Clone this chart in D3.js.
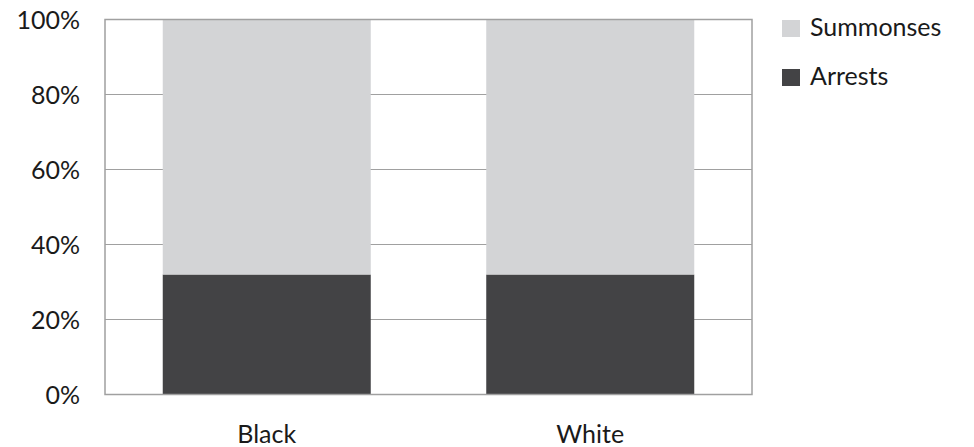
<!DOCTYPE html>
<html>
<head>
<meta charset="utf-8">
<script src="https://cdn.jsdelivr.net/npm/d3@7"></script>
<style>
  body { margin: 0; background: #fff; }
  text { font-family: Lato, "Open Sans", sans-serif; fill: #1a1a1a; }
</style>
</head>
<body>
<div id="chart"></div>
<script>
var races = ["Black", "White"];
var arrests = [32, 32];
var summonses = [68, 68];
var seriesNames = ["Summonses", "Arrests"];
var seriesColors = ["#d3d4d6", "#434345"];
var yTicks = [0, 20, 40, 60, 80, 100];

var width = 974, height = 447;
var margin = { top: 19.5, right: 222, bottom: 52.5, left: 105 };

var svg = d3.select("#chart").append("svg")
    .attr("width", width)
    .attr("height", height);

var x = d3.scaleBand()
    .domain(races)
    .range([margin.left, width - margin.right])
    .paddingInner(0.357)
    .paddingOuter(0.1785);

var y = d3.scaleLinear()
    .domain([0, 100])
    .range([height - margin.bottom, margin.top]);

// gridlines
svg.append("g").selectAll("line")
    .data(yTicks)
    .enter().append("line")
    .attr("x1", margin.left)
    .attr("x2", width - margin.right)
    .attr("y1", d => y(d))
    .attr("y2", d => y(d))
    .attr("stroke", "#a0a0a0")
    .attr("stroke-width", 1.2);

// stacked data
var rows = races.map(function(r, i) {
    return { race: r, Arrests: arrests[i], Summonses: summonses[i] };
});
var stack = d3.stack().keys(["Arrests", "Summonses"]);
var layers = stack(rows);
var color = d3.scaleOrdinal().domain(seriesNames).range(seriesColors);

svg.append("g").selectAll("g")
    .data(layers)
    .enter().append("g")
    .attr("fill", d => color(d.key))
    .selectAll("rect")
    .data(d => d)
    .enter().append("rect")
    .attr("x", d => x(d.data.race))
    .attr("width", x.bandwidth())
    .attr("y", d => y(d[1]))
    .attr("height", d => y(d[0]) - y(d[1]));

// plot border
svg.append("rect")
    .attr("x", margin.left)
    .attr("y", margin.top)
    .attr("width", width - margin.right - margin.left)
    .attr("height", height - margin.bottom - margin.top)
    .attr("fill", "none")
    .attr("stroke", "#a0a0a0")
    .attr("stroke-width", 1.5);

// y labels
svg.append("g").selectAll("text")
    .data(yTicks)
    .enter().append("text")
    .attr("x", 80)
    .attr("y", d => y(d))
    .attr("dy", "0.36em")
    .attr("text-anchor", "end")
    .style("font-size", "25px")
    .text(d => d + "%");

// x labels
svg.append("g").selectAll("text")
    .data(races)
    .enter().append("text")
    .attr("x", d => x(d) + x.bandwidth() / 2)
    .attr("y", 443)
    .attr("text-anchor", "middle")
    .style("font-size", "25px")
    .text(d => d);

// legend
var legend = svg.append("g").selectAll("g")
    .data(seriesNames)
    .enter().append("g")
    .attr("transform", (d, i) => "translate(782," + (20 + i * 49) + ")");
legend.append("rect")
    .attr("width", 18)
    .attr("height", 17)
    .attr("fill", d => color(d));
legend.append("text")
    .attr("x", 28)
    .attr("y", 16)
    .style("font-size", "25px")
    .text(d => d);
</script>
</body>
</html>
